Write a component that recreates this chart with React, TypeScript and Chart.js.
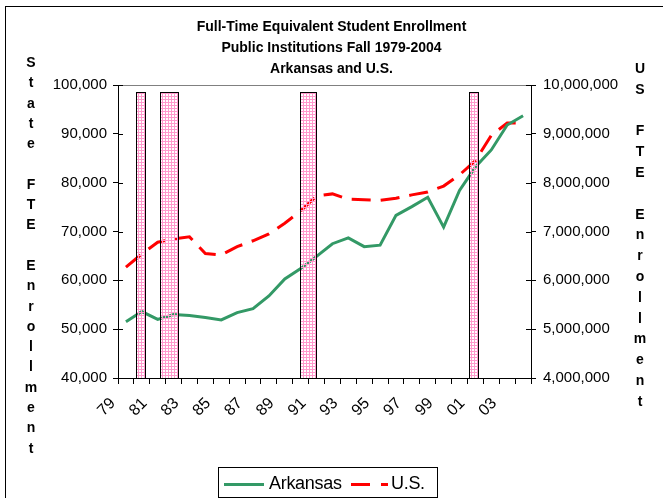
import React, { useEffect, useRef } from 'react';
import { Chart, registerables } from 'chart.js';
Chart.register(...registerables);

const years = ['79','80','81','82','83','84','85','86','87','88','89','90','91','92','93','94','95','96','97','98','99','00','01','02','03','04'];
const xTickLabels = ['79','','81','','83','','85','','87','','89','','91','','93','','95','','97','','99','','01','','03',''];
const arkansas = [51500,53600,52000,53000,52800,52400,51900,53400,54200,56800,60300,62400,64900,67500,68700,66900,67200,73300,75100,77000,70900,78400,83200,86700,91800,93700];
const usTotal = [6270000,6540000,6780000,6850000,6890000,6550000,6520000,6690000,6810000,6950000,7170000,7420000,7730000,7770000,7660000,7650000,7640000,7680000,7750000,7810000,7930000,8160000,8450000,8970000,9220000,9220000];
const recessionStart = [1980.13, 1981.66, 1990.45, 2001.08];
const recessionEnd = [1980.72, 1982.75, 1991.47, 2001.69];
const recessionTop = 98500;
const firstYear = 1979;
const leftMin = 40000, leftMax = 100000, leftStep = 10000;
const rightMin = 4000000, rightMax = 10000000, rightStep = 1000000;
const titleLines = ['Full-Time Equivalent Student Enrollment', 'Public Institutions Fall 1979-2004', 'Arkansas and U.S.'];
const leftTitle = ['S','t','a','t','e','','F','T','E','','E','n','r','o','l','l','m','e','n','t'];
const rightTitle = ['U','S','','F','T','E','','E','n','r','o','l','l','m','e','n','t'];

const FONT = '"Liberation Sans", Arial, sans-serif';

function makePattern(ctx: CanvasRenderingContext2D) {
  const c = document.createElement('canvas');
  c.width = 3; c.height = 3;
  const p = c.getContext('2d')!;
  p.fillStyle = '#ff99cc';
  p.fillRect(0, 0, 3, 1);
  p.fillRect(0, 0, 1, 3);
  return ctx.createPattern(c, 'repeat')!;
}

const recessionPlugin = {
  id: 'recessions',
  afterDatasetsDraw(chart: any) {
    const { ctx } = chart;
    const xs = chart.scales.x;
    const ys = chart.scales.y;
    const pat = makePattern(ctx);
    ctx.save();
    for (let i = 0; i < recessionStart.length; i++) {
      const x0 = Math.round(xs.getPixelForValue(recessionStart[i] - firstYear - 0.5));
      const x1 = Math.round(xs.getPixelForValue(recessionEnd[i] - firstYear - 0.5));
      const yt = Math.round(ys.getPixelForValue(recessionTop));
      const yb = Math.round(ys.getPixelForValue(leftMin));
      ctx.fillStyle = pat;
      ctx.fillRect(x0, yt, x1 - x0, yb - yt);
      ctx.strokeStyle = '#000';
      ctx.lineWidth = 1;
      ctx.strokeRect(x0 + 0.5, yt + 0.5, x1 - x0, yb - yt);
    }
    ctx.restore();
  },
  afterDraw(chart: any) {
    const { ctx, chartArea } = chart;
    ctx.save();
    ctx.strokeStyle = '#808080';
    ctx.lineWidth = 1;
    ctx.beginPath();
    ctx.moveTo(chartArea.left, Math.round(chartArea.top) + 0.5);
    ctx.lineTo(chartArea.right, Math.round(chartArea.top) + 0.5);
    ctx.stroke();
    ctx.strokeStyle = '#000';
    ['y', 'y1'].forEach((id) => {
      const s = chart.scales[id];
      const left = id === 'y';
      const ax = left ? s.right : s.left;
      s.ticks.forEach((t: any) => {
        const py = Math.round(s.getPixelForValue(t.value)) + 0.5;
        ctx.beginPath();
        ctx.moveTo(ax, py);
        ctx.lineTo(left ? ax + 5 : ax - 5, py);
        ctx.stroke();
      });
    });
    ctx.restore();
  },
};

function ChartCanvas() {
  const ref = useRef<HTMLCanvasElement>(null);
  useEffect(() => {
    const chart = new Chart(ref.current!, {
      type: 'line',
      data: {
        labels: years,
        datasets: [
          { label: 'Arkansas', data: arkansas, yAxisID: 'y', borderColor: '#339966', backgroundColor: '#339966', borderWidth: 3, pointRadius: 0, tension: 0 },
          { label: 'U.S.', data: usTotal, yAxisID: 'y1', borderColor: '#ff0000', backgroundColor: '#ff0000', borderWidth: 3, borderDash: [19, 10], pointRadius: 0, tension: 0 },
        ],
      },
      options: {
        responsive: false,
        animation: false,
        layout: { padding: { top: 85, left: 0, right: 0, bottom: 0 } },
        plugins: { legend: { display: false }, title: { display: false }, tooltip: { enabled: false } },
        scales: {
          x: {
            type: 'category',
            offset: true,
            grid: { offset: true, drawOnChartArea: false, tickLength: 6, color: '#000' },
            border: { color: '#000' },
            ticks: {
              autoSkip: false, maxRotation: 45, minRotation: 45,
              font: { size: 16, family: FONT }, color: '#000', labelOffset: -13, padding: 10,
              callback: (_v: any, i: number) => xTickLabels[i],
            },
            afterFit: (s: any) => { s.height = 120; },
          },
          y: {
            position: 'left', min: leftMin, max: leftMax,
            grid: { drawOnChartArea: false, tickLength: 5, color: '#000' },
            border: { color: '#000' },
            ticks: { stepSize: leftStep, font: { size: 15, family: FONT }, color: '#000', padding: 6,
              callback: (v: any) => Number(v).toLocaleString('en-US') },
            afterFit: (s: any) => { s.width = 118; },
          },
          y1: {
            position: 'right', min: rightMin, max: rightMax,
            grid: { drawOnChartArea: false, tickLength: 5, color: '#000' },
            border: { color: '#000' },
            ticks: { stepSize: rightStep, font: { size: 15, family: FONT }, color: '#000', padding: 7,
              callback: (v: any) => Number(v).toLocaleString('en-US') },
            afterFit: (s: any) => { s.width = 132; },
          },
        },
      },
      plugins: [recessionPlugin],
    } as any);
    return () => chart.destroy();
  }, []);
  return <canvas ref={ref} width={663} height={498} style={{ position: 'absolute', left: 0, top: 0 }} />;
}

export default function App() {
  const leftLetter: React.CSSProperties = { height: 20.3, lineHeight: '20.3px', textAlign: 'center' };
  const rightLetter: React.CSSProperties = { height: 20.8, lineHeight: '20.8px', textAlign: 'center' };
  return (
    <div style={{ position: 'fixed', left: 0, top: 0, width: 663, height: 498, overflow: 'hidden', background: '#fff', fontFamily: FONT, color: '#000' }}>
      <ChartCanvas />
      <div style={{ position: 'absolute', left: 5, top: 6, width: 700, height: 600, border: '1px solid #000', pointerEvents: 'none' }} />
      <div style={{ position: 'absolute', left: 0, top: 16, width: 663, textAlign: 'center', fontWeight: 'bold', fontSize: 14, lineHeight: '21px' }}>
        {titleLines.map((t, i) => <div key={i}>{t}</div>)}
      </div>
      <div style={{ position: 'absolute', left: 21, top: 52, width: 20, fontWeight: 'bold', fontSize: 14 }}>
        {leftTitle.map((t, i) => <div key={i} style={leftLetter}>{t || '\u00a0'}</div>)}
      </div>
      <div style={{ position: 'absolute', left: 630, top: 58, width: 20, fontWeight: 'bold', fontSize: 14 }}>
        {rightTitle.map((t, i) => <div key={i} style={rightLetter}>{t || '\u00a0'}</div>)}
      </div>
      <div style={{ position: 'absolute', left: 218, top: 467, width: 218, height: 29, border: '1px solid #000', background: '#fff' }}>
        <div style={{ position: 'absolute', left: 5, top: 15, width: 40, height: 3, background: '#339966' }} />
        <div style={{ position: 'absolute', left: 50, top: 4, fontSize: 18, letterSpacing: -0.3, lineHeight: '22px' }}>Arkansas</div>
        <div style={{ position: 'absolute', left: 132, top: 15, width: 19, height: 3, background: '#ff0000' }} />
        <div style={{ position: 'absolute', left: 162, top: 15, width: 7, height: 3, background: '#ff0000' }} />
        <div style={{ position: 'absolute', left: 172, top: 4, fontSize: 18, letterSpacing: -0.3, lineHeight: '22px' }}>U.S.</div>
      </div>
    </div>
  );
}
